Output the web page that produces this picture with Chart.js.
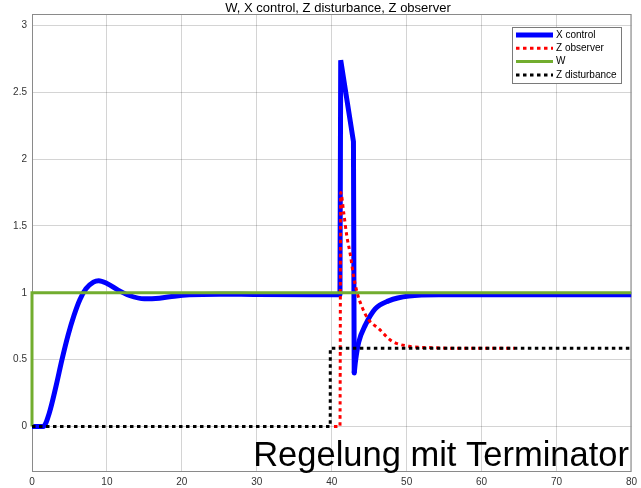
<!DOCTYPE html>
<html>
<head>
<meta charset="utf-8">
<script src="https://cdn.jsdelivr.net/npm/chart.js@4.4.0/dist/chart.umd.min.js"></script>
<style>
  html, body { margin: 0; padding: 0; background: #fff; }
  #wrap { width: 641px; height: 488px; }
</style>
</head>
<body>
<div id="wrap"><canvas id="myChart" width="641" height="488"></canvas></div>
<script>
// simulation traces (time in s, value)
const xControlT = [0, 1.5, 2.3, 3.2, 4.0, 4.8, 5.6, 6.4, 7.2, 8.2, 8.9, 10, 11.5, 13, 15, 17, 19, 21, 25, 30, 41.1,
                   41.2, 42.9, 43.0, 43.2, 43.6, 44.5, 45.8, 47.6, 50.3, 54.3, 60, 80];
const xControlV = [0, 0, 0.10, 0.30, 0.50, 0.68, 0.83, 0.95, 1.03, 1.08, 1.09, 1.07, 1.02, 0.98, 0.955, 0.96, 0.975, 0.985, 0.99, 0.987, 0.985,
                   2.74, 2.13, 0.40, 0.50, 0.63, 0.76, 0.88, 0.94, 0.976, 0.985, 0.985, 0.985];
// the spike between these indices is drawn with straight segments
const spikeFrom = 20, spikeTo = 23;

const zObserverT = [40.3, 41.1, 41.2, 41.6, 42.0, 42.5, 42.9, 43.4, 44.0, 44.9, 46.3, 48.0, 50.3, 53.4, 57, 64.4];
const zObserverV = [0, 0, 1.75, 1.60, 1.43, 1.28, 1.13, 1.0, 0.90, 0.80, 0.73, 0.64, 0.60, 0.59, 0.585, 0.585];

const wT = [0, 0.001, 80];
const wV = [0, 1, 1];

const zDisturbT = [0, 39.8, 39.81, 80];
const zDisturbV = [0, 0, 0.585, 0.585];

const xTicks = [0, 10, 20, 30, 40, 50, 60, 70, 80];
const yTicks = [0, 0.5, 1, 1.5, 2, 2.5, 3];

const FONT = '"Liberation Sans", Arial, sans-serif';

function pts(t, v, from, to) {
  const out = t.map((x, i) => ({x: x, y: v[i]}));
  return out.slice(from || 0, to === undefined ? out.length : to + 1);
}

// axes box, title, legend inside the plot, caption
const extras = {
  id: 'extras',
  beforeDatasetsDraw(chart) {
    const {ctx, chartArea: a} = chart;
    ctx.save();
    ctx.strokeStyle = '#8a8a8a';
    ctx.lineWidth = 1;
    ctx.strokeRect(a.left + 0.5, a.top + 0.5, a.right - a.left - 1, a.bottom - a.top - 1);
    ctx.restore();
  },
  afterDraw(chart) {
    const ctx = chart.ctx;
    ctx.save();
    ctx.fillStyle = '#000';
    ctx.font = '13px ' + FONT;
    ctx.textAlign = 'center';
    ctx.textBaseline = 'alphabetic';
    ctx.fillText('W, X control, Z disturbance, Z observer', 338, 11.5);

    // legend
    const bx = 512, by = 27, bw = 109, bh = 56;
    ctx.fillStyle = '#fff';
    ctx.fillRect(bx, by, bw, bh);
    ctx.strokeStyle = '#7a7a7a';
    ctx.lineWidth = 1;
    ctx.strokeRect(bx + 0.5, by + 0.5, bw, bh);
    ctx.font = '10px ' + FONT;
    ctx.textAlign = 'left';
    ctx.textBaseline = 'middle';
    chart.data.datasets.filter(ds => ds.inLegend).forEach((ds, i) => {
      const y = by + 8 + i * 13.3;
      ctx.strokeStyle = ds.borderColor;
      ctx.lineWidth = ds.borderWidth;
      ctx.lineCap = 'butt';
      ctx.setLineDash(ds.borderDash || []);
      ctx.beginPath();
      ctx.moveTo(bx + 4, y);
      ctx.lineTo(bx + 41, y);
      ctx.stroke();
      ctx.setLineDash([]);
      ctx.fillStyle = '#000';
      ctx.fillText(ds.label, bx + 44, y);
    });

    // caption
    ctx.font = '34.5px ' + FONT;
    ctx.fillStyle = '#000';
    ctx.textBaseline = 'alphabetic';
    ctx.textAlign = 'right';
    ctx.fillText('Regelung mit Terminator', 629, 466);
    ctx.restore();
  }
};

const gridColor = 'rgba(0,0,0,0.17)';
const tickFont = {family: FONT, size: 10};
const blue = {borderColor: '#0000ff', borderWidth: 5, order: 4};

new Chart(document.getElementById('myChart'), {
  type: 'line',
  data: {
    datasets: [
      Object.assign({label: 'X control', inLegend: true, data: pts(xControlT, xControlV, 0, spikeFrom),
       cubicInterpolationMode: 'monotone'}, blue),
      {label: 'Z observer', inLegend: true, data: pts(zObserverT, zObserverV), borderColor: '#ff0000', borderWidth: 3,
       borderDash: [3.5, 3.5], cubicInterpolationMode: 'monotone', order: 3},
      {label: 'W', inLegend: true, data: pts(wT, wV), borderColor: '#72ad2f', borderWidth: 3, order: 2,
       clip: {left: 3, top: 0, right: 0, bottom: 0}},
      {label: 'Z disturbance', inLegend: true, data: pts(zDisturbT, zDisturbV), borderColor: '#000000', borderWidth: 3,
       borderDash: [3.5, 3.5], order: 1},
      Object.assign({label: 'X control', data: pts(xControlT, xControlV, spikeFrom, spikeTo),
       borderCapStyle: 'round'}, blue),
      Object.assign({label: 'X control', data: pts(xControlT, xControlV, spikeTo),
       cubicInterpolationMode: 'monotone'}, blue)
    ]
  },
  options: {
    responsive: false,
    animation: false,
    layout: {padding: {top: 14, right: 9, left: 0, bottom: 0}},
    elements: {point: {radius: 0}, line: {tension: 0, borderCapStyle: 'butt', borderJoinStyle: 'miter'}},
    plugins: {
      legend: {display: false},
      tooltip: {enabled: false},
      title: {display: false}
    },
    scales: {
      x: {
        type: 'linear', min: 0, max: 80,
        afterBuildTicks: s => { s.ticks = xTicks.map(v => ({value: v})); },
        afterFit: s => { s.height = 16; },
        grid: {color: gridColor, drawTicks: false},
        border: {display: false},
        ticks: {color: '#333', font: tickFont, padding: 4, maxRotation: 0, callback: v => String(v)}
      },
      y: {
        type: 'linear', min: -0.34, max: 3.085,
        afterBuildTicks: s => { s.ticks = yTicks.map(v => ({value: v})); },
        afterFit: s => { s.width = 32; },
        grid: {color: gridColor, drawTicks: false},
        border: {display: false},
        ticks: {color: '#333', font: tickFont, padding: 5, callback: v => String(v)}
      }
    }
  },
  plugins: [extras]
});
</script>
</body>
</html>
